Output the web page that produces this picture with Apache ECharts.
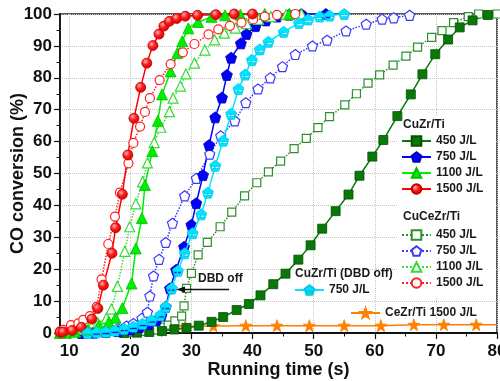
<!DOCTYPE html>
<html><head><meta charset="utf-8">
<script src="https://cdn.jsdelivr.net/npm/echarts@6/dist/echarts.min.js"></script>
<style>html,body{margin:0;padding:0;background:#fff}#c{width:500px;height:381px}</style>
</head><body><div id="c"></div>
<script>
// ---- data (time s, CO conversion %) ----
const xTickLabels = [10,20,30,40,50,60,70,80];
const yTickLabels = [0,10,20,30,40,50,60,70,80,90,100];

const cuzr450 = [[19,0],[21.1,0.1],[23.1,0.3],[25.2,0.6],[27.2,1.1],[29.2,1.6],[31.2,2.3],[33.3,3.5],[35.2,5],[37.4,7.2],[39.4,9.1],[41.3,11.8],[43.4,15.3],[45.4,18.6],[47.5,23],[49.5,27.5],[51.4,32.7],[53.6,38.2],[55.7,43.4],[57.5,49.3],[59.6,55.3],[61.4,60.5],[63.7,68],[65.9,74.8],[67.8,81.1],[69.9,87.4],[72,92],[73.9,95.8],[76,98],[78.5,99.7]];
const cuzr750 = [[12,0],[14,0.1],[16,0.3],[18,0.6],[20,1.1],[21.5,1.8],[23,2.8],[24.3,4],[25.1,5.5],[25.8,8.2],[26.5,14],[27.5,19.8],[28.8,27],[30,33.9],[30.8,40.7],[31.9,49.5],[32.9,58.9],[33.9,67.6],[35,73.8],[35.8,80.9],[36.5,86.3],[38.1,90.8],[39,93.7],[40.5,96.2],[42.2,98],[44,99.2],[46,99.8],[48,100],[52,100]];
const cuzr1100 = [[8.5,0],[9.5,0.1],[11,0.4],[13,1],[14.8,2.3],[16.5,3.5],[17.6,4.8],[18.7,7.8],[20.2,15.5],[20.9,26.5],[21.9,36],[22.4,46.4],[23.6,57],[24.5,66.5],[25.2,74.8],[26.6,82],[27.7,87.8],[28.5,91.5],[29.5,95.5],[31.1,97.5],[33.3,99.1],[35.5,99.6],[38,99.8],[42,100],[46,100]];
const cuzr1500 = [[8.5,0.2],[9,0.3],[10.5,0.8],[12,1.8],[13.7,4.4],[14.7,7.7],[15.6,15],[17,25],[17.6,33],[18.7,43.5],[19.6,55.8],[20.6,67.3],[21.7,77],[22.7,84.6],[23.7,90.1],[24.7,93.7],[25.5,96.2],[26.4,97.7],[27.6,98.6],[29,99.3],[31,99.6],[34,99.8],[37,100],[40,100]];

const cuce450 = [[14,0],[16,0],[18,0.2],[20,0.3],[22,0.5],[24,1],[25.1,1.8],[26.2,2.5],[27.3,3.8],[28.4,5.3],[28.8,8.5],[29.2,14],[30,18.7],[31.1,24.5],[32.6,28.4],[34.7,33.3],[36.6,37.9],[38.7,43],[40.7,47.1],[42.6,50.5],[44.6,53.9],[46.8,57.8],[48.8,61],[50.7,64.4],[52.6,67.8],[55.1,71.5],[57,75],[58.9,78.3],[60.8,80.9],[63,84],[65.1,86.8],[67,89.6],[69.3,92.7],[71,94.8],[72.9,97.3],[75.3,99.2],[77,100],[80,100]];
const cuce750 = [[12,0],[14,0.3],[16,0.8],[18,1.4],[19.4,2.2],[20.5,3],[21.9,4.6],[22.8,6.5],[23.2,11.6],[23.8,17.9],[24.7,23.1],[25.8,28.4],[26.9,34.4],[28.9,43],[30.8,48.5],[33,56.1],[34.8,61.8],[37.1,66.5],[38.9,72.2],[40.9,76.5],[42.9,80],[44.9,83.5],[47,87.3],[49.8,90],[52.2,91.8],[55.3,94.7],[58.6,96.8],[61.2,98.4],[63.1,98.8],[65.7,99.6]];
const cuce1100 = [[8.5,0],[9.8,0.4],[11.3,1.2],[12.9,2.2],[14.7,3.2],[16.1,4.7],[16.9,7.5],[17.9,14.6],[19.1,25.6],[19.9,33.3],[20.9,40.5],[22,47.4],[22.8,53.3],[23.9,59.7],[25,64.5],[26.4,69.4],[27,73.6],[28.2,77.4],[29.1,81.2],[30.5,84.6],[32.2,88.7],[33.8,91.9],[35.4,94],[37.2,95.6],[39,97],[41,98.3],[43,99.2],[45.5,99.8],[48,100]];
const cuce1500 = [[8.5,0.5],[9,1],[10.3,2.5],[11.5,3],[12.3,4.1],[13.4,5.3],[14.5,8.2],[15.3,16.8],[16.4,27.9],[17.5,36.5],[18.3,44],[19.7,53.2],[20.5,59.6],[21.6,64.7],[22.4,69.3],[23.2,73.6],[24.8,79.3],[26.6,84.3],[28.6,88],[30.5,90.6],[32.8,93.6],[34.4,95.2],[36.3,96.3],[38.2,97.3],[40.1,98.3],[42,99.2],[44,99.7],[47,100]];

const dbdOff750 = [[13,0],[14.5,0.2],[16,0.4],[17.5,0.8],[19,1.3],[20.5,2],[22,2.9],[23.5,4],[24.9,5.6],[25.8,8.2],[26.8,14],[27.8,19.5],[28.9,25],[30.2,31.3],[31.6,37.2],[32.7,44],[33.9,52.4],[35.2,60.3],[36.5,68.7],[37.7,76.5],[38.8,81],[39.9,85.6],[41.2,88.9],[42.6,91.3],[45.1,94.4],[47.6,97.2],[49.1,98.3],[51,99.2],[52.6,99.5],[55,100]];
const cezr1500 = [[19.5,0.3],[24.7,1.5],[29,2],[33.6,2.2],[38.9,2.3],[44,2.3],[49.3,2.3],[55,2.3],[61,2.3],[66.4,2.6],[71.3,2.6],[76.6,2.6],[80,2.6]];

// ---- styling ----
const FONT = 'Liberation Sans, Arial, sans-serif';
const PENT = 'path://M0,-10L9.51,-3.09L5.88,8.09L-5.88,8.09L-9.51,-3.09Z';
const PENT_BAR = 'path://M0,-10L9.51,-3.09L5.88,8.09L-5.88,8.09L-9.51,-3.09ZM-6.5,0.5L-6.5,3.5L6.5,3.5L6.5,0.5Z';
const STAR = 'path://M0,-10L2.35,-3.24L9.51,-3.09L3.8,1.24L5.88,8.09L0,4L-5.88,8.09L-3.8,1.24L-9.51,-3.09L-2.35,-3.24Z';
const redBall = {type:'radial',x:0.38,y:0.35,r:0.7,colorStops:[{offset:0,color:'#ffb0b0'},{offset:0.45,color:'#ff1a1a'},{offset:1,color:'#d00000'}]};

function mk(name, data, opt){
  return {
    name, type:'line', data, symbol:opt.symbol, symbolSize:opt.size,
    lineStyle:{color:opt.color, width:1.5, type:opt.dotted?'dotted':'solid'},
    itemStyle: opt.filled
      ? {color:opt.fill||opt.color, borderColor:opt.border||opt.color, borderWidth:0.8}
      : {color:'#ffffff', borderColor:opt.color, borderWidth:1.2},
    z: opt.z || 2,
    animation:false
  };
}

const star = cezr1500.map((p,i)=> (i===0||i===cezr1500.length-1) ? {value:p, symbol:'none'} : p);

const series = [
  mk('CeZr/Ti 1500 J/L', star, {symbol:STAR, size:12, color:'#ff7f00', filled:true, border:'#ff7f00'}),
  mk('CuCeZr/Ti 450 J/L', cuce450, {symbol:'rect', size:8, color:'#2f8f2f', dotted:true}),
  mk('CuZr/Ti 450 J/L', cuzr450, {symbol:'rect', size:9, color:'#087808', filled:true, border:'#045004'}),
  mk('CuCeZr/Ti 750 J/L', cuce750, {symbol:PENT, size:10, color:'#3a3aff', dotted:true}),
  mk('CuZr/Ti 750 J/L', cuzr750, {symbol:PENT, size:11, color:'#0000ff', filled:true, border:'#0000b0'}),
  mk('CuZr/Ti (DBD off) 750 J/L', dbdOff750, {symbol:PENT_BAR, size:11, color:'#00e5ff', filled:true, border:'#00c8e8', z:3}),
  mk('CuCeZr/Ti 1100 J/L', cuce1100, {symbol:'triangle', size:10, color:'#33dd33', dotted:true}),
  mk('CuZr/Ti 1100 J/L', cuzr1100, {symbol:'triangle', size:11, color:'#00ee00', filled:true, border:'#00c000'}),
  mk('CuCeZr/Ti 1500 J/L', cuce1500, {symbol:'circle', size:9, color:'#ff2020', dotted:true}),
  mk('CuZr/Ti 1500 J/L', cuzr1500, {symbol:'circle', size:10, color:'#ff0000', filled:true, fill:redBall, border:'#c00000'})
];

const legText = {fontSize:12, fontWeight:'bold', color:'#1a1a1a', fontFamily:FONT, lineHeight:12};
function leg(names, left, top, fmt){
  return {data:names, orient:'vertical', left, top, padding:0, itemWidth:29, itemHeight:12, itemGap:4,
    selectedMode:false, textStyle:legText, formatter: fmt || (n => n.replace(/^.*?\s(\d+ J\/L)$/, '$1'))};
}

const chart = echarts.init(document.getElementById('c'), null, {renderer:'canvas'});
chart.setOption({
  animation:false,
  backgroundColor:'#fff',
  grid:{left:60, right:3, top:14, bottom:48, containLabel:false, outerBoundsMode:'none', show:true, borderColor:'#222', borderWidth:1.5},
  xAxis:{
    type:'value', min:8.5, max:80, splitNumber:7,
    name:'Running time (s)', nameLocation:'middle', nameGap:28, nameMoveOverlap:false,
    nameTextStyle:{fontSize:18, fontWeight:'bold', color:'#111', fontFamily:FONT},
    axisLine:{show:true, lineStyle:{color:'#111', width:1.8}},
    axisTick:{show:true, inside:false, length:6, lineStyle:{color:'#111', width:1.2}},
    minorTick:{show:true, splitNumber:2, length:3.5, lineStyle:{color:'#111', width:1}},
    axisLabel:{showMinLabel:false, margin:10, fontSize:17, fontWeight:'bold', color:'#111', fontFamily:FONT,
      formatter: v => xTickLabels.includes(Math.round(v)) ? String(Math.round(v)) : ''},
    splitLine:{show:true, lineStyle:{color:'#c4c4c4', type:'dotted', width:1}}
  },
  yAxis:{
    type:'value', min:0, max:100, interval:10,
    name:'CO conversion (%)', nameLocation:'middle', nameGap:33, nameMoveOverlap:false,
    nameTextStyle:{fontSize:18, fontWeight:'bold', color:'#111', fontFamily:FONT},
    axisLine:{show:true, lineStyle:{color:'#111', width:1.8}},
    axisTick:{show:true, inside:false, length:6, lineStyle:{color:'#111', width:1.2}},
    minorTick:{show:true, splitNumber:2, length:3.5, lineStyle:{color:'#111', width:1}},
    axisLabel:{margin:8, fontSize:17, fontWeight:'bold', color:'#111', fontFamily:FONT,
      formatter: v => yTickLabels.includes(v) ? String(v) : ''},
    splitLine:{show:true, lineStyle:{color:'#c4c4c4', type:'dotted', width:1}}
  },
  legend:[
    leg(['CuZr/Ti 450 J/L','CuZr/Ti 750 J/L','CuZr/Ti 1100 J/L','CuZr/Ti 1500 J/L'], 401, 135),
    leg(['CuCeZr/Ti 450 J/L','CuCeZr/Ti 750 J/L','CuCeZr/Ti 1100 J/L','CuCeZr/Ti 1500 J/L'], 401, 229),
    leg(['CuZr/Ti (DBD off) 750 J/L'], 294, 284),
    leg(['CeZr/Ti 1500 J/L'], 350, 307, n => n)
  ],
  graphic:[
    {type:'rect', z:1, shape:{x:398, y:116, width:98, height:182}, style:{fill:'#fff'}},
    {type:'text', z:5, left:403, top:119, style:{text:'CuZr/Ti', font:'bold 12px '+FONT, fill:'#1a1a1a'}},
    {type:'text', z:5, left:403, top:211, style:{text:'CuCeZr/Ti', font:'bold 12px '+FONT, fill:'#1a1a1a'}},
    {type:'text', z:5, left:295, top:268, style:{text:'CuZr/Ti (DBD off)', font:'bold 12px '+FONT, fill:'#1a1a1a'}},
    {type:'text', z:5, left:198, top:273, style:{text:'DBD off', font:'bold 12px '+FONT, fill:'#1a1a1a'}},
    {type:'line', z:5, shape:{x1:229, y1:289.5, x2:183, y2:289.5}, style:{stroke:'#111', lineWidth:1.5}},
    {type:'polygon', z:5, shape:{points:[[176,289.5],[185,286.5],[185,292.5]]}, style:{fill:'#111'}}
  ],
  series
});
</script>
</body></html>
